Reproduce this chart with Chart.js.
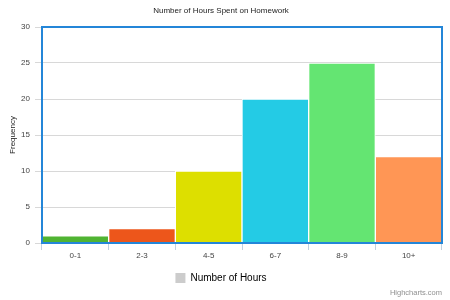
<!DOCTYPE html>
<html>
<head>
<meta charset="utf-8">
<script src="https://cdn.jsdelivr.net/npm/chart.js@4/dist/chart.umd.min.js"></script>
<style>
html,body{margin:0;padding:0;background:#fff;}
#wrap{width:450px;height:300px;}
</style>
</head>
<body>
<div id="wrap"><canvas id="c" width="450" height="300"></canvas></div>
<script>
const categories = ['0-1', '2-3', '4-5', '6-7', '8-9', '10+'];
const hours = [1, 2, 10, 20, 25, 12];
const barColors = ['#50B432', '#ED561B', '#DDDF00', '#24CBE5', '#64E572', '#FF9655'];
const yTicks = [0, 5, 10, 15, 20, 25, 30];
const seriesName = 'Number of Hours';
const chartTitle = 'Number of Hours Spent on Homework';
const yTitle = 'Frequency';
const credits = 'Highcharts.com';

const FONT = "'Liberation Sans', Arial, sans-serif";

const extras = {
  id: 'extras',
  afterDatasetsDraw(chart) {
    const {ctx, chartArea: a} = chart;
    ctx.save();
    ctx.strokeStyle = '#2486d8';
    ctx.lineWidth = 2;
    ctx.strokeRect(a.left, a.top, a.right - a.left, a.bottom - a.top);
    ctx.restore();
  },
  afterDraw(chart) {
    const {ctx} = chart;
    ctx.save();
    ctx.font = '7.5px ' + FONT;
    ctx.fillStyle = '#909090';
    ctx.textAlign = 'right';
    ctx.textBaseline = 'middle';
    ctx.fillText(credits, 442, 293);
    ctx.restore();
  }
};

new Chart(document.getElementById('c'), {
  type: 'bar',
  data: {
    labels: categories,
    datasets: [{
      label: seriesName,
      data: hours,
      backgroundColor: barColors,
      borderColor: '#ffffff',
      borderWidth: 1,
      barPercentage: 1,
      categoryPercentage: 1
    }]
  },
  options: {
    responsive: false,
    animation: false,
    layout: {padding: {left: 0, right: 8, top: 0, bottom: 7}},
    plugins: {
      title: {
        display: true,
        text: chartTitle,
        color: '#222',
        font: {family: FONT, size: 8, weight: 'normal'},
        padding: {top: 6, bottom: 11.4}
      },
      legend: {
        display: true,
        position: 'bottom',
        labels: {
          color: '#333',
          font: {family: FONT, size: 10},
          boxWidth: 10,
          boxHeight: 10,
          padding: 8,
          generateLabels() {
            return [{text: seriesName, fillStyle: '#cccccc', strokeStyle: '#cccccc', lineWidth: 0, hidden: false, datasetIndex: 0}];
          }
        },
        onClick() {}
      },
      tooltip: {enabled: false}
    },
    scales: {
      x: {
        offset: true,
        grid: {
          offset: true,
          drawOnChartArea: false,
          drawTicks: true,
          tickLength: 7,
          color: '#C0D0E0'
        },
        border: {display: true, color: '#C0D0E0'},
        ticks: {color: '#444', font: {family: FONT, size: 8}, padding: 1},
        afterFit(s) { s.height = 22; }
      },
      y: {
        min: 0,
        max: 30,
        afterBuildTicks(s) { s.ticks = yTicks.map(v => ({value: v})); },
        grid: {color: '#D8D8D8', tickLength: 7, drawTicks: true},
        border: {display: false},
        ticks: {color: '#444', font: {family: FONT, size: 8}, padding: 5},
        title: {
          display: true,
          text: yTitle,
          color: '#222',
          font: {family: FONT, size: 8},
          padding: {top: 8, bottom: 0}
        },
        afterFit(s) { s.width = 42; }
      }
    }
  },
  plugins: [extras]
});
</script>
</body>
</html>
